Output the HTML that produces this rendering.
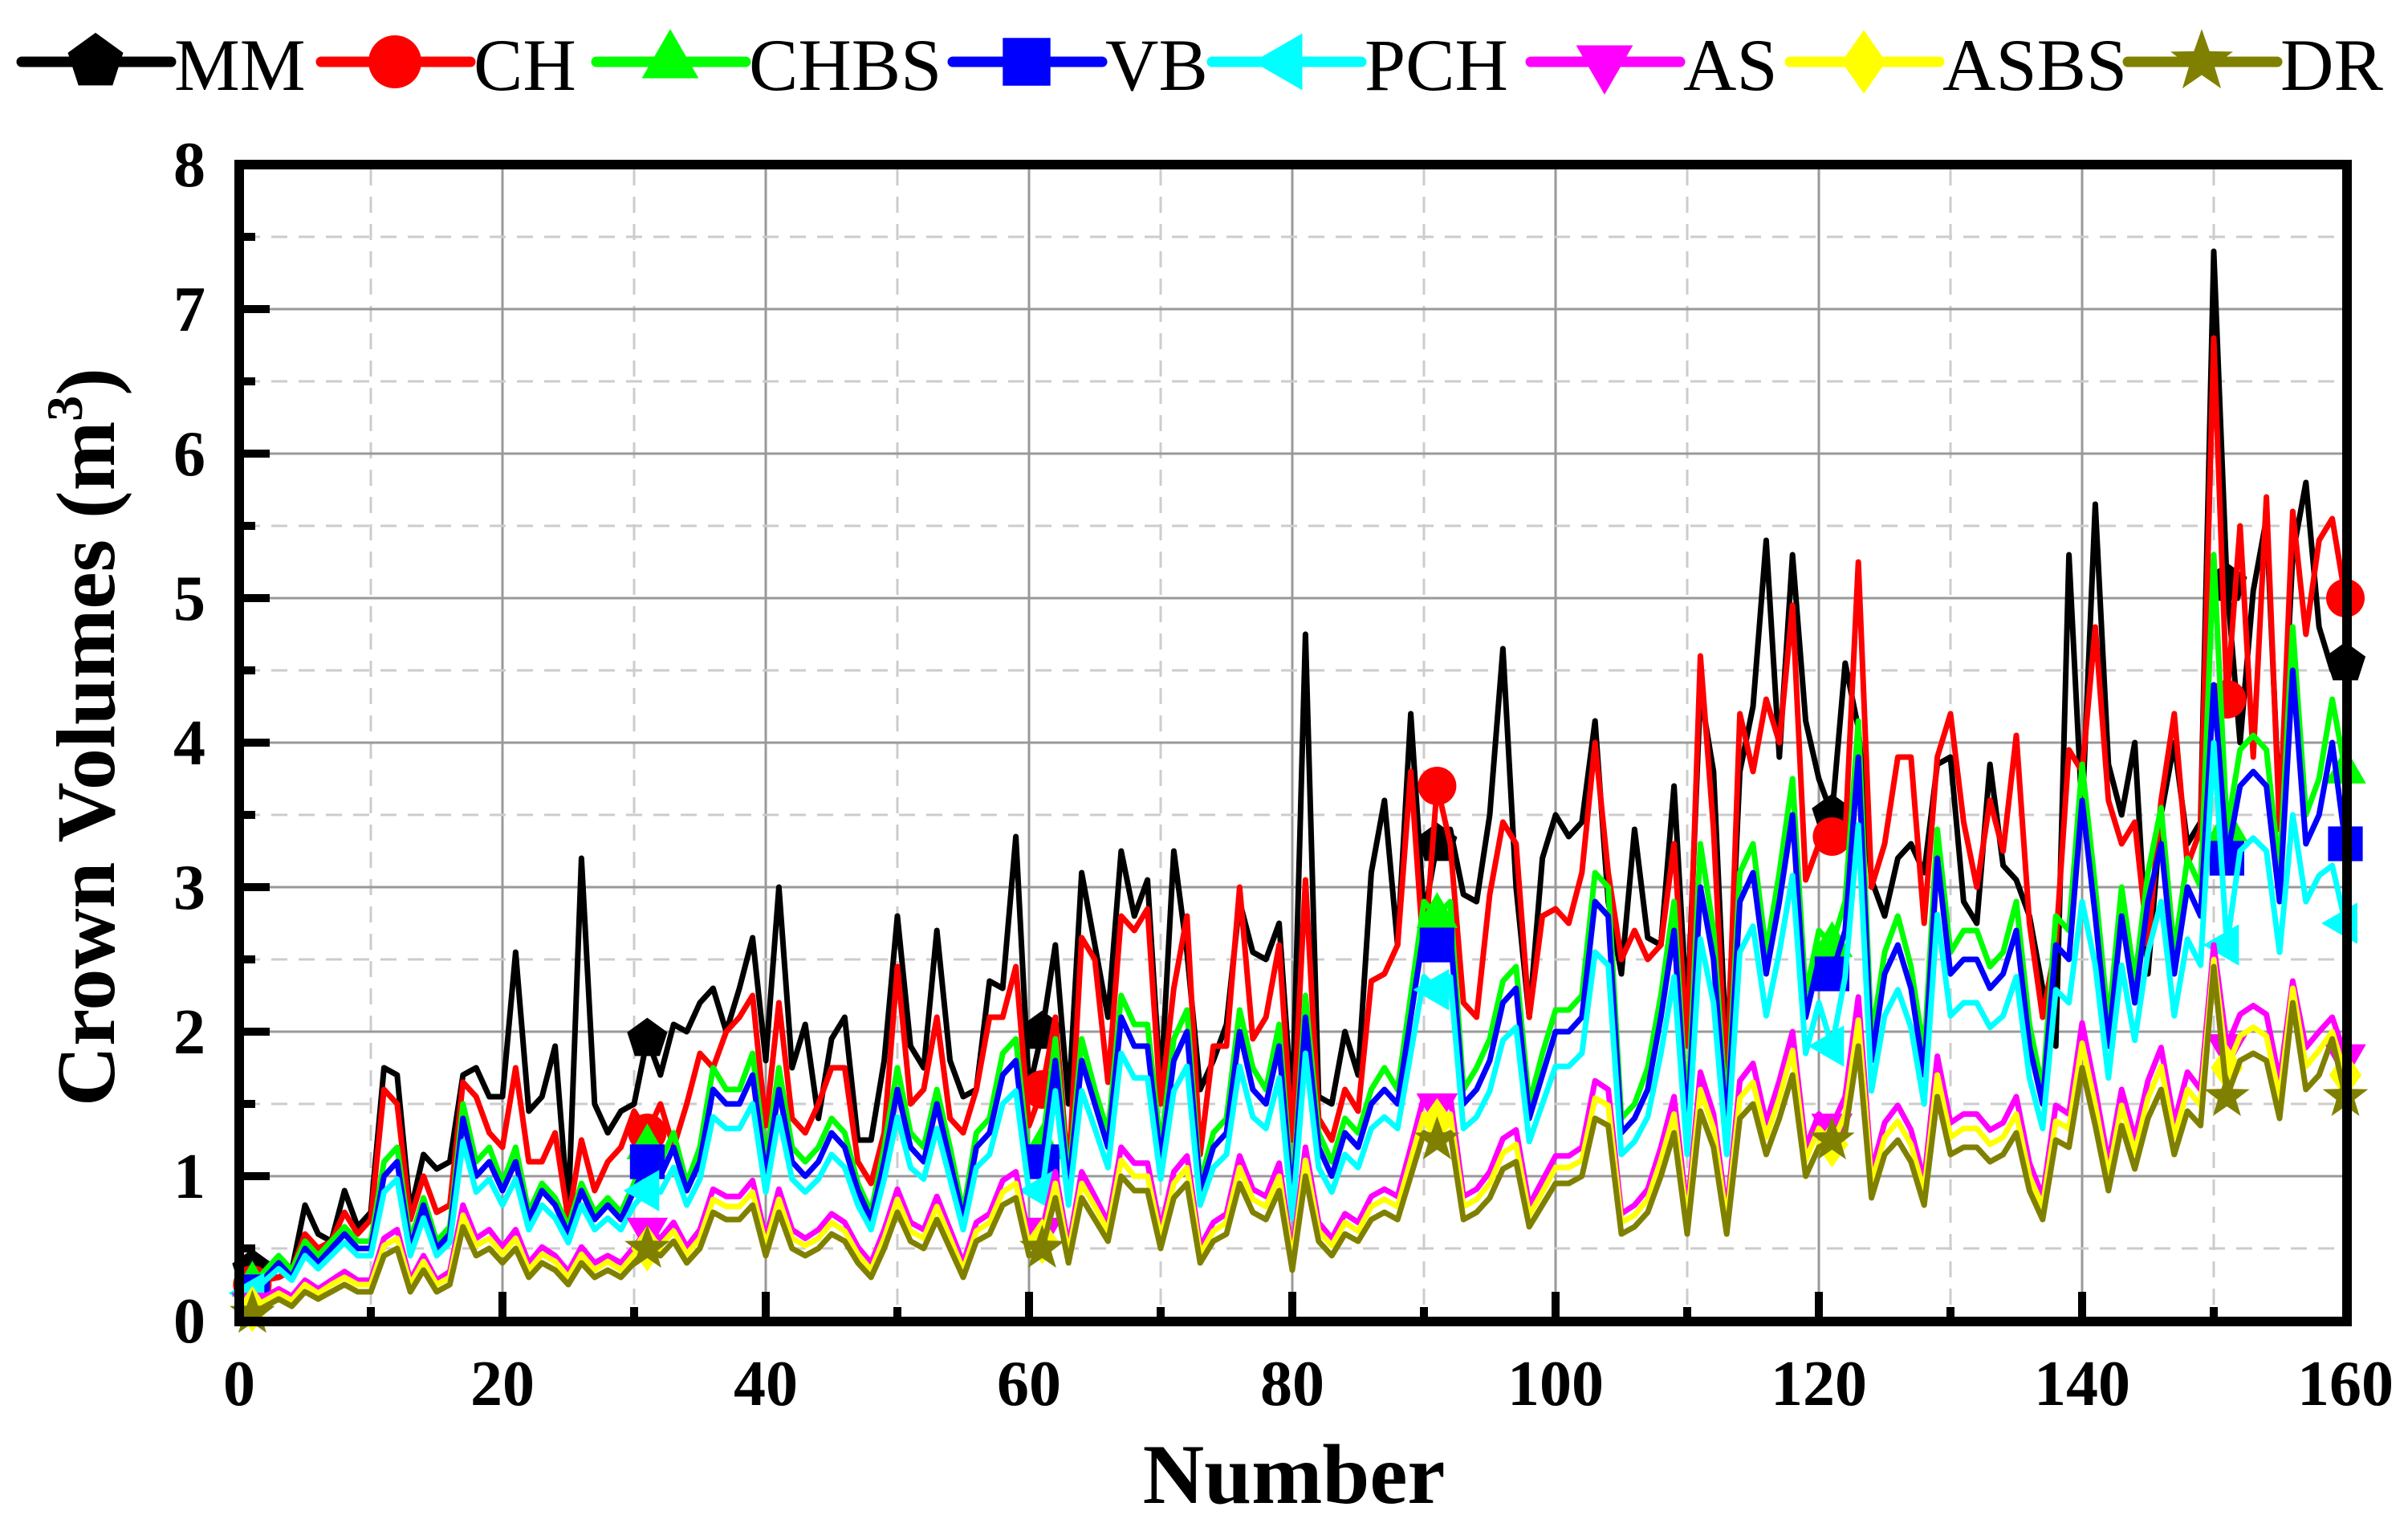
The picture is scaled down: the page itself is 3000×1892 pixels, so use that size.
<!DOCTYPE html>
<html><head><meta charset="utf-8"><style>
html,body{margin:0;padding:0;background:#fff;}
svg{display:block;}
text{font-family:"Liberation Serif",serif;}
</style></head><body>
<svg id="chart" width="3000" height="1892" viewBox="0 0 3000 1892" xmlns="http://www.w3.org/2000/svg">
<g id="grid"></g>
<g id="series"></g>
<g id="frame"></g>
<g id="legend"></g>
<text transform="translate(142,918) rotate(-90)" text-anchor="middle" font-size="104" font-weight="bold">Crown Volumes (m<tspan font-size="64" dy="-40">3</tspan><tspan dy="40">)</tspan></text>
<text x="1612" y="1872" text-anchor="middle" font-size="106" font-weight="bold">Number</text>
</svg>
<script>
const seriesNames = ["MM","CH","CHBS","VB","PCH","AS","ASBS","DR"];
const xTicks = [0,20,40,60,80,100,120,140,160];
const yTicks = [0,1,2,3,4,5,6,7,8];
const mmValues = [0.35,0.3,0.3,0.35,0.8,0.6,0.55,0.9,0.65,0.75,1.75,1.7,0.75,1.15,1.05,1.1,1.7,1.75,1.55,1.55,2.55,1.45,1.55,1.9,0.75,3.2,1.5,1.3,1.45,1.5,1.95,1.7,2.05,2.0,2.2,2.3,2.0,2.3,2.65,1.8,3.0,1.75,2.05,1.4,1.95,2.1,1.25,1.25,1.8,2.8,1.9,1.75,2.7,1.8,1.55,1.6,2.35,2.3,3.35,1.6,2.0,2.6,1.5,3.1,2.6,2.1,3.25,2.8,3.05,1.6,3.25,2.55,1.6,1.8,2.05,2.9,2.55,2.5,2.75,1.45,4.75,1.55,1.5,2.0,1.7,3.1,3.6,2.6,4.2,2.8,3.3,3.4,2.95,2.9,3.5,4.65,3.0,2.1,3.2,3.5,3.35,3.45,4.15,2.9,2.4,3.4,2.65,2.6,3.7,2.1,4.35,3.8,1.8,3.8,4.25,5.4,3.9,5.3,4.15,3.75,3.5,4.55,4.1,3.05,2.8,3.2,3.3,3.1,3.85,3.9,2.9,2.75,3.85,3.15,3.05,2.8,2.3,1.9,5.3,3.5,5.65,3.85,3.5,4.0,2.4,3.5,4.0,3.3,3.45,7.4,5.1,4.0,5.05,5.55,3.5,5.3,5.8,4.8,4.5,4.55];
const chValues = [0.25,0.28,0.3,0.35,0.6,0.5,0.55,0.75,0.6,0.7,1.6,1.5,0.7,1.0,0.75,0.8,1.65,1.55,1.3,1.2,1.75,1.1,1.1,1.3,0.7,1.25,0.9,1.1,1.2,1.45,1.3,1.5,1.2,1.5,1.85,1.75,2.0,2.1,2.25,1.35,2.2,1.4,1.3,1.5,1.75,1.75,1.1,0.95,1.3,2.45,1.5,1.6,2.1,1.4,1.3,1.6,2.1,2.1,2.45,1.35,1.6,2.1,1.0,2.65,2.5,1.65,2.8,2.7,2.85,1.5,2.3,2.8,1.15,1.9,1.9,3.0,1.95,2.1,2.6,1.25,3.05,1.4,1.25,1.6,1.45,2.35,2.4,2.6,3.8,2.5,3.7,3.3,2.2,2.1,2.95,3.45,3.3,2.1,2.8,2.85,2.75,3.1,4.0,3.1,2.5,2.7,2.5,2.6,3.3,1.9,4.6,3.4,1.6,4.2,3.8,4.3,4.0,4.95,3.05,3.3,3.35,3.35,5.25,3.0,3.3,3.9,3.9,2.75,3.9,4.2,3.45,3.0,3.6,3.25,4.05,2.75,2.1,2.6,3.95,3.8,4.8,3.6,3.3,3.45,2.6,3.6,4.2,3.15,3.4,6.8,4.3,5.5,3.9,5.7,3.4,5.6,4.75,5.4,5.55,5.0];
const chbsValues = [0.25,0.35,0.45,0.35,0.55,0.45,0.55,0.65,0.55,0.55,1.1,1.2,0.55,0.85,0.55,0.65,1.5,1.1,1.2,0.95,1.2,0.75,0.95,0.85,0.65,0.95,0.75,0.85,0.75,0.95,1.2,1.1,1.3,0.95,1.2,1.75,1.6,1.6,1.85,1.1,1.75,1.2,1.1,1.2,1.4,1.3,0.95,0.75,1.2,1.75,1.3,1.2,1.6,1.2,0.75,1.3,1.4,1.85,1.95,1.1,1.2,1.95,0.95,1.95,1.6,1.3,2.25,2.05,2.05,1.2,1.95,2.15,0.95,1.3,1.4,2.15,1.75,1.6,2.05,0.85,2.25,1.3,1.1,1.4,1.3,1.6,1.75,1.6,2.25,2.9,2.8,2.9,1.6,1.75,1.95,2.35,2.45,1.5,1.85,2.15,2.15,2.25,3.1,3.0,1.4,1.5,1.75,2.25,2.9,1.4,3.3,2.7,1.4,3.1,3.3,2.55,3.1,3.75,2.25,2.7,2.6,2.9,4.15,1.95,2.55,2.8,2.45,1.85,3.4,2.55,2.7,2.7,2.45,2.55,2.9,2.05,1.6,2.8,2.7,3.85,3.0,2.05,3.0,2.35,3.1,3.55,2.55,3.2,3.0,5.3,3.4,3.95,4.05,3.95,3.1,4.8,3.5,3.75,4.3,3.8];
const vbValues = [0.2,0.3,0.4,0.3,0.5,0.4,0.5,0.6,0.5,0.5,1.0,1.1,0.5,0.8,0.5,0.6,1.4,1.0,1.1,0.9,1.1,0.7,0.9,0.8,0.6,0.9,0.7,0.8,0.7,0.9,1.1,1.0,1.2,0.9,1.1,1.6,1.5,1.5,1.7,1.0,1.6,1.1,1.0,1.1,1.3,1.2,0.9,0.7,1.1,1.6,1.2,1.1,1.5,1.1,0.7,1.2,1.3,1.7,1.8,1.0,1.1,1.8,0.9,1.8,1.5,1.2,2.1,1.9,1.9,1.1,1.8,2.0,0.9,1.2,1.3,2.0,1.6,1.5,1.9,0.8,2.1,1.2,1.0,1.3,1.2,1.5,1.6,1.5,2.1,2.7,2.6,2.7,1.5,1.6,1.8,2.2,2.3,1.4,1.7,2.0,2.0,2.1,2.9,2.8,1.3,1.4,1.6,2.1,2.7,1.3,3.0,2.5,1.3,2.9,3.1,2.4,2.9,3.5,2.1,2.5,2.4,2.7,3.9,1.8,2.4,2.6,2.3,1.7,3.2,2.4,2.5,2.5,2.3,2.4,2.7,1.9,1.5,2.6,2.5,3.6,2.8,1.9,2.8,2.2,2.9,3.3,2.4,3.0,2.8,4.4,3.2,3.7,3.8,3.7,2.9,4.5,3.3,3.5,4.0,3.3];
const pchValues = [0.19,0.28,0.36,0.28,0.45,0.36,0.45,0.54,0.45,0.45,0.89,0.98,0.45,0.71,0.45,0.54,1.24,0.89,0.98,0.8,0.98,0.63,0.8,0.71,0.54,0.8,0.63,0.71,0.63,0.8,0.9,0.89,1.06,0.8,0.98,1.41,1.33,1.33,1.5,0.89,1.41,0.98,0.89,0.98,1.15,1.06,0.8,0.63,0.98,1.41,1.06,0.98,1.33,0.98,0.63,1.06,1.15,1.5,1.59,0.89,0.9,1.59,0.8,1.59,1.33,1.06,1.85,1.68,1.68,0.98,1.59,1.76,0.8,1.06,1.15,1.76,1.41,1.33,1.68,0.71,1.85,1.06,0.89,1.15,1.06,1.33,1.41,1.33,1.85,2.38,2.29,2.38,1.33,1.41,1.59,1.94,2.03,1.24,1.5,1.76,1.76,1.85,2.55,2.46,1.15,1.24,1.41,1.85,2.38,1.15,2.64,2.2,1.15,2.55,2.73,2.11,2.55,3.08,1.85,2.2,1.9,2.38,3.43,1.59,2.11,2.29,2.03,1.5,2.81,2.11,2.2,2.2,2.03,2.11,2.38,1.68,1.33,2.29,2.2,2.9,2.46,1.68,2.46,1.94,2.55,2.9,2.11,2.64,2.46,4.0,2.6,3.25,3.34,3.25,2.55,3.5,2.9,3.08,3.15,2.75];
const asValues = [0.11,0.17,0.22,0.17,0.28,0.22,0.28,0.34,0.28,0.28,0.57,0.63,0.28,0.45,0.28,0.34,0.8,0.57,0.63,0.51,0.63,0.4,0.51,0.45,0.34,0.51,0.4,0.45,0.4,0.51,0.63,0.57,0.68,0.51,0.63,0.91,0.86,0.86,0.97,0.57,0.91,0.63,0.57,0.63,0.74,0.68,0.51,0.4,0.63,0.91,0.68,0.63,0.86,0.63,0.4,0.68,0.74,0.97,1.03,0.57,0.63,1.03,0.51,1.03,0.86,0.68,1.2,1.09,1.09,0.63,1.03,1.14,0.51,0.68,0.74,1.14,0.91,0.86,1.09,0.45,1.2,0.68,0.57,0.74,0.68,0.86,0.91,0.86,1.2,1.55,1.49,1.55,0.86,0.91,1.03,1.26,1.32,0.8,0.97,1.14,1.14,1.2,1.66,1.6,0.74,0.8,0.91,1.2,1.55,0.74,1.72,1.43,0.74,1.66,1.78,1.37,1.66,2.0,1.2,1.43,1.35,1.55,2.24,1.03,1.37,1.49,1.32,0.97,1.83,1.37,1.43,1.43,1.32,1.37,1.55,1.09,0.86,1.49,1.43,2.06,1.6,1.09,1.6,1.26,1.66,1.89,1.37,1.72,1.6,2.6,1.9,2.12,2.18,2.12,1.66,2.35,1.89,2.0,2.1,1.83];
const asbsValues = [0.08,0.14,0.19,0.14,0.25,0.19,0.25,0.3,0.25,0.25,0.52,0.57,0.25,0.41,0.25,0.3,0.73,0.52,0.57,0.46,0.57,0.35,0.46,0.41,0.3,0.46,0.35,0.41,0.35,0.46,0.5,0.52,0.62,0.46,0.57,0.84,0.79,0.79,0.89,0.52,0.84,0.57,0.52,0.57,0.68,0.62,0.46,0.35,0.57,0.84,0.62,0.57,0.79,0.57,0.35,0.62,0.68,0.89,0.95,0.52,0.55,0.95,0.46,0.95,0.79,0.62,1.11,1.0,1.0,0.57,0.95,1.06,0.46,0.62,0.68,1.06,0.84,0.79,1.0,0.41,1.11,0.62,0.52,0.68,0.62,0.79,0.84,0.79,1.11,1.43,1.38,1.43,0.79,0.84,0.95,1.16,1.22,0.73,0.89,1.06,1.06,1.11,1.54,1.49,0.68,0.73,0.84,1.11,1.43,0.68,1.6,1.33,0.68,1.54,1.65,1.27,1.54,1.87,1.11,1.33,1.22,1.43,2.08,0.95,1.27,1.38,1.22,0.89,1.7,1.27,1.33,1.33,1.22,1.27,1.43,1.0,0.79,1.38,1.33,1.92,1.49,1.0,1.49,1.16,1.54,1.76,1.27,1.6,1.49,2.5,1.75,1.97,2.03,1.97,1.54,2.3,1.76,1.87,2.0,1.7];
const drValues = [0.05,0.1,0.15,0.1,0.2,0.15,0.2,0.25,0.2,0.2,0.45,0.5,0.2,0.35,0.2,0.25,0.65,0.45,0.5,0.4,0.5,0.3,0.4,0.35,0.25,0.4,0.3,0.35,0.3,0.4,0.5,0.45,0.55,0.4,0.5,0.75,0.7,0.7,0.8,0.45,0.75,0.5,0.45,0.5,0.6,0.55,0.4,0.3,0.5,0.75,0.55,0.5,0.7,0.5,0.3,0.55,0.6,0.8,0.85,0.45,0.5,0.85,0.4,0.85,0.7,0.55,1.0,0.9,0.9,0.5,0.85,0.95,0.4,0.55,0.6,0.95,0.75,0.7,0.9,0.35,1.0,0.55,0.45,0.6,0.55,0.7,0.75,0.7,1.0,1.3,1.25,1.3,0.7,0.75,0.85,1.05,1.1,0.65,0.8,0.95,0.95,1.0,1.4,1.35,0.6,0.65,0.75,1.0,1.3,0.6,1.45,1.2,0.6,1.4,1.5,1.15,1.4,1.7,1.0,1.2,1.25,1.3,1.9,0.85,1.15,1.25,1.1,0.8,1.55,1.15,1.2,1.2,1.1,1.15,1.3,0.9,0.7,1.25,1.2,1.75,1.35,0.9,1.35,1.05,1.4,1.6,1.15,1.45,1.35,2.45,1.55,1.8,1.85,1.8,1.4,2.2,1.6,1.7,1.95,1.55];
const markerIndices = [1,31,61,91,121,151,160];

const NS="http://www.w3.org/2000/svg";
const X0=298, XS=16.4, Y0=1645, YS=180;
function xs(n){return X0+n*XS;}
function ys(v){return Y0-v*YS;}
function mk(tag,attrs,parent){const e=document.createElementNS(NS,tag);for(const k in attrs)e.setAttribute(k,attrs[k]);parent.appendChild(e);return e;}
const grid=document.getElementById('grid'), ser=document.getElementById('series'), frame=document.getElementById('frame'), leg=document.getElementById('legend');
const L=304, R=2918, T=211, B=1640;
for(let v=10;v<160;v+=10){
  const major=v%20===0;
  const g=mk('line',{x1:xs(v),x2:xs(v),y1:T,y2:B,stroke:major?'#999':'#ccc','stroke-width':3,'stroke-dasharray':major?'none':'20 14'},grid);
  
  
}
for(let v=0.5;v<8;v+=0.5){
  const major=Math.abs(v-Math.round(v))<0.01;
  const g=mk('line',{x1:L,x2:R,y1:ys(v),y2:ys(v),stroke:major?'#999':'#ccc','stroke-width':3,'stroke-dasharray':major?'none':'20 14'},grid);
  
  
}
const colors=["#000000","#ff0000","#00ff00","#0000ff","#00ffff","#ff00ff","#ffff00","#808000"];
const shapes=["pentagon","circle","triUp","square","triLeft","triDown","diamond","star"];
const data=[mmValues,chValues,chbsValues,vbValues,pchValues,asValues,asbsValues,drValues];
function marker(shape,cx,cy,s,color,parent){
  if(shape==='circle'){return mk('circle',{cx:cx,cy:cy,r:s*0.5,fill:color},parent);}
  const pts=[];
  const poly=(n,rot,r)=>{for(let i=0;i<n;i++){const a=rot+i*2*Math.PI/n;pts.push([cx+r*Math.cos(a),cy+r*Math.sin(a)]);}};
  if(shape==='pentagon')poly(5,-Math.PI/2,s*0.55);
  else if(shape==='triUp')poly(3,-Math.PI/2,s*0.62);
  else if(shape==='triDown')poly(3,Math.PI/2,s*0.62);
  else if(shape==='triLeft')poly(3,Math.PI,s*0.62);
  else if(shape==='square'){const h=s*0.45;pts.push([cx-h,cy-h],[cx+h,cy-h],[cx+h,cy+h],[cx-h,cy+h]);}
  else if(shape==='diamond'){const h=s*0.6;pts.push([cx,cy-h],[cx+h*0.7,cy],[cx,cy+h],[cx-h*0.7,cy]);}
  else if(shape==='star'){for(let i=0;i<10;i++){const a=-Math.PI/2+i*Math.PI/5;const r=i%2?s*0.25:s*0.62;pts.push([cx+r*Math.cos(a),cy+r*Math.sin(a)]);}}
  return mk('polygon',{points:pts.map(p=>p[0].toFixed(1)+','+p[1].toFixed(1)).join(' '),fill:color},parent);
}
data.forEach((vals,si)=>{
  const g=mk('g',{},ser);
  
  
  const pts=vals.map((v,i)=>xs(i+1).toFixed(1)+','+ys(v).toFixed(1)).join(' ');
  const pl=mk('polyline',{points:pts,fill:'none',stroke:colors[si],'stroke-width':7,'stroke-linejoin':'round'},g);
  
  
  markerIndices.forEach(n=>{
    const m=marker(shapes[si],xs(n),ys(vals[n-1]),48,colors[si],g);
    
    
  });
});
const fr=mk('rect',{x:298,y:205,width:2626,height:1441,fill:'none',stroke:'#000','stroke-width':12},frame);


for(let v=10;v<160;v+=10){
  const major=v%20===0;
  const t=mk('rect',{x:xs(v)-5,y:1640-(major?31:12),width:10,height:major?31:12,fill:'#000'},frame);
  
  
}
for(let v=0.5;v<8;v+=0.5){
  const major=Math.abs(v-Math.round(v))<0.01;
  const t=mk('rect',{x:304,y:ys(v)-5,width:major?32:14,height:10,fill:'#000'},frame);
  
  
}
xTicks.forEach(v=>{
  const t=mk('text',{x:xs(v),y:1750,'text-anchor':'middle','font-size':80,'font-weight':'bold'},frame);
  t.textContent=v;
  
  
});
yTicks.forEach(v=>{
  const t=mk('text',{x:256,y:ys(v)+27,'text-anchor':'end','font-size':80,'font-weight':'bold'},frame);
  t.textContent=v;
  
  
});
const legTextX=[217,590,933,1377,1700,2097,2420,2841];
seriesNames.forEach((nm,i)=>{
  const g=mk('g',{},leg);
  
  
  const x2=legTextX[i], x1=x2-196;
  mk('line',{x1:x1+6,x2:x2-4,y1:77,y2:77,stroke:colors[i],'stroke-width':13,'stroke-linecap':'round'},g);
  marker(shapes[i],(x1+x2)/2,77,66,colors[i],g);
  const t=mk('text',{x:x2,y:112,'font-size':92},g);
  t.textContent=nm;
});
</script>
</body></html>
